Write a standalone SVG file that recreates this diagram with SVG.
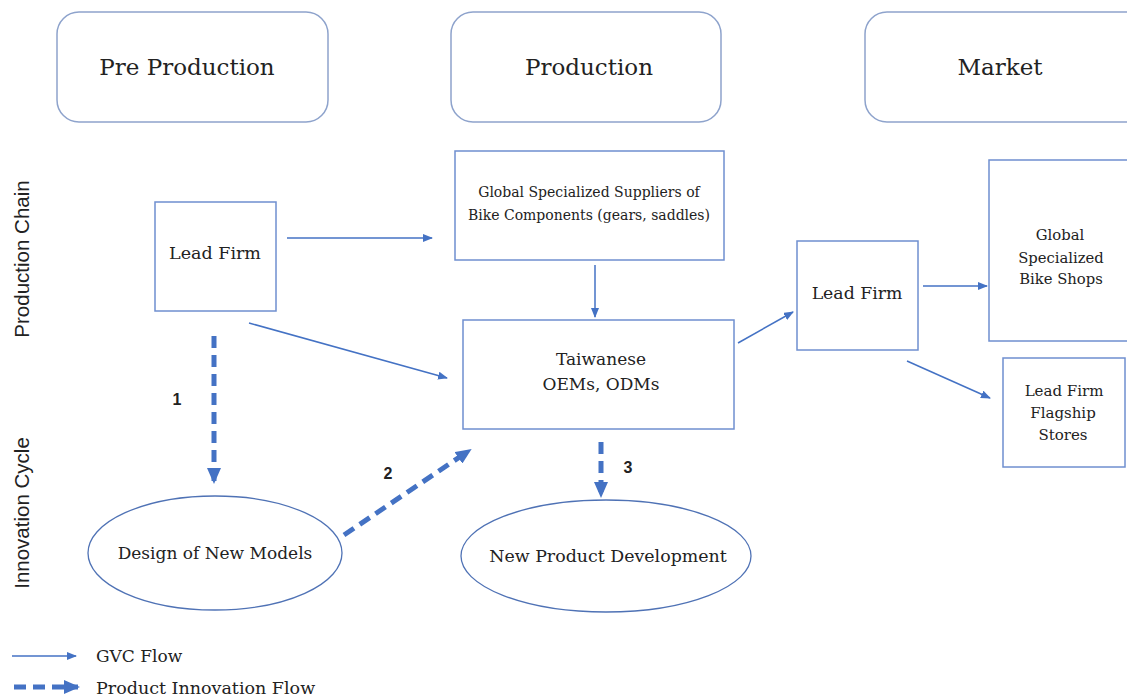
<svg xmlns="http://www.w3.org/2000/svg" width="1127" height="697" viewBox="0 0 1127 697">
<style>
.hdr{fill:#fff;stroke:#8ea3cc;stroke-width:1.5}
.box{fill:#fff;stroke:#6f8fcf;stroke-width:1.5}
.ell{fill:#fff;stroke:#4f72b5;stroke-width:1.3}
.t{font-family:"DejaVu Serif",serif;fill:#222;text-anchor:middle}
.num{font-family:"Liberation Sans",sans-serif;font-weight:bold;font-size:16px;fill:#222;text-anchor:middle}
.side{font-family:"Liberation Sans",sans-serif;font-size:20.5px;fill:#222;text-anchor:middle}
.solid{stroke:#4472c4;stroke-width:1.5;fill:none;marker-end:url(#ah)}
.dash{stroke:#4472c4;stroke-width:5;stroke-dasharray:12 7;fill:none;marker-end:url(#ahd)}
</style>
<defs>
<marker id="ah" markerWidth="10" markerHeight="8" refX="9" refY="4" orient="auto" markerUnits="userSpaceOnUse">
<path d="M0,0 L10,4 L0,8 Z" fill="#4472c4"/>
</marker>
<marker id="ahd" markerWidth="16" markerHeight="14" refX="14" refY="7" orient="auto" markerUnits="userSpaceOnUse">
<path d="M0,0 L16,7 L0,14 Z" fill="#4472c4"/>
</marker>
</defs>
<rect width="1127" height="697" fill="#fff"/>
<g id="hdr-pre"><rect class="hdr" x="57" y="12" width="271" height="110" rx="22"/><text class="t" x="187" y="75" font-size="23">Pre Production</text></g>
<g id="hdr-prod"><rect class="hdr" x="451" y="12" width="270" height="110" rx="22"/><text class="t" x="589" y="75" font-size="23">Production</text></g>
<g id="hdr-market"><rect class="hdr" x="865" y="12" width="285" height="110" rx="22"/><text class="t" x="1000" y="75" font-size="23">Market</text></g>
<text class="side" transform="translate(29,259) rotate(-90)">Production Chain</text>
<text class="side" transform="translate(29,513) rotate(-90)">Innovation Cycle</text>
<g id="suppliers"><rect class="box" x="455" y="151" width="269" height="109"/><text class="t" font-size="14"><tspan x="589" y="197">Global Specialized Suppliers of</tspan><tspan x="589" y="220">Bike Components (gears, saddles)</tspan></text></g>
<g id="leadfirm1"><rect class="box" x="155" y="202" width="121" height="109"/><text class="t" x="215" y="259" font-size="17.5">Lead Firm</text></g>
<g id="taiwanese"><rect class="box" x="463" y="320" width="271" height="109"/><text class="t" font-size="17"><tspan x="601" y="365">Taiwanese</tspan><tspan x="601" y="390">OEMs, ODMs</tspan></text></g>
<g id="leadfirm2"><rect class="box" x="797" y="241" width="121" height="109"/><text class="t" x="857" y="299" font-size="17.3">Lead Firm</text></g>
<g id="bikeshops"><rect class="box" x="989" y="160" width="150" height="181"/><text class="t" font-size="14.8"><tspan x="1060" y="240">Global</tspan><tspan x="1061" y="263">Specialized</tspan><tspan x="1061" y="284">Bike Shops</tspan></text></g>
<g id="flagship"><rect class="box" x="1003" y="358" width="122" height="109"/><text class="t" font-size="15"><tspan x="1064" y="396">Lead Firm</tspan><tspan x="1063" y="418">Flagship</tspan><tspan x="1063" y="440">Stores</tspan></text></g>
<g id="design"><ellipse class="ell" cx="215" cy="553" rx="127" ry="57"/><text class="t" x="215" y="559" font-size="17">Design of New Models</text></g>
<g id="npd"><ellipse class="ell" cx="606" cy="556" rx="145" ry="56"/><text class="t" x="608" y="562" font-size="17.4">New Product Development</text></g>
<g id="connectors">
<line class="solid" x1="287" y1="238" x2="432" y2="238"/>
<line class="solid" x1="595" y1="265" x2="595" y2="317"/>
<line class="solid" x1="249" y1="323" x2="447" y2="378"/>
<line class="solid" x1="738" y1="343" x2="793" y2="312"/>
<line class="solid" x1="923" y1="286" x2="987" y2="286"/>
<line class="solid" x1="907" y1="361" x2="990" y2="398"/>
<line class="dash" x1="214" y1="336" x2="214" y2="482"/>
<line class="dash" x1="344" y1="535" x2="470" y2="450"/>
<line class="dash" x1="601" y1="442" x2="601" y2="496"/>
</g>
<text class="num" x="177" y="405">1</text>
<text class="num" x="388" y="479">2</text>
<text class="num" x="628" y="473">3</text>
<g id="legend">
<line class="solid" x1="12" y1="656" x2="76" y2="656"/>
<text class="t" x="96" y="662" font-size="17" style="text-anchor:start">GVC Flow</text>
<line class="dash" x1="14" y1="687" x2="78" y2="687"/>
<text class="t" x="96" y="694" font-size="17.5" style="text-anchor:start">Product Innovation Flow</text>
</g>
</svg>
